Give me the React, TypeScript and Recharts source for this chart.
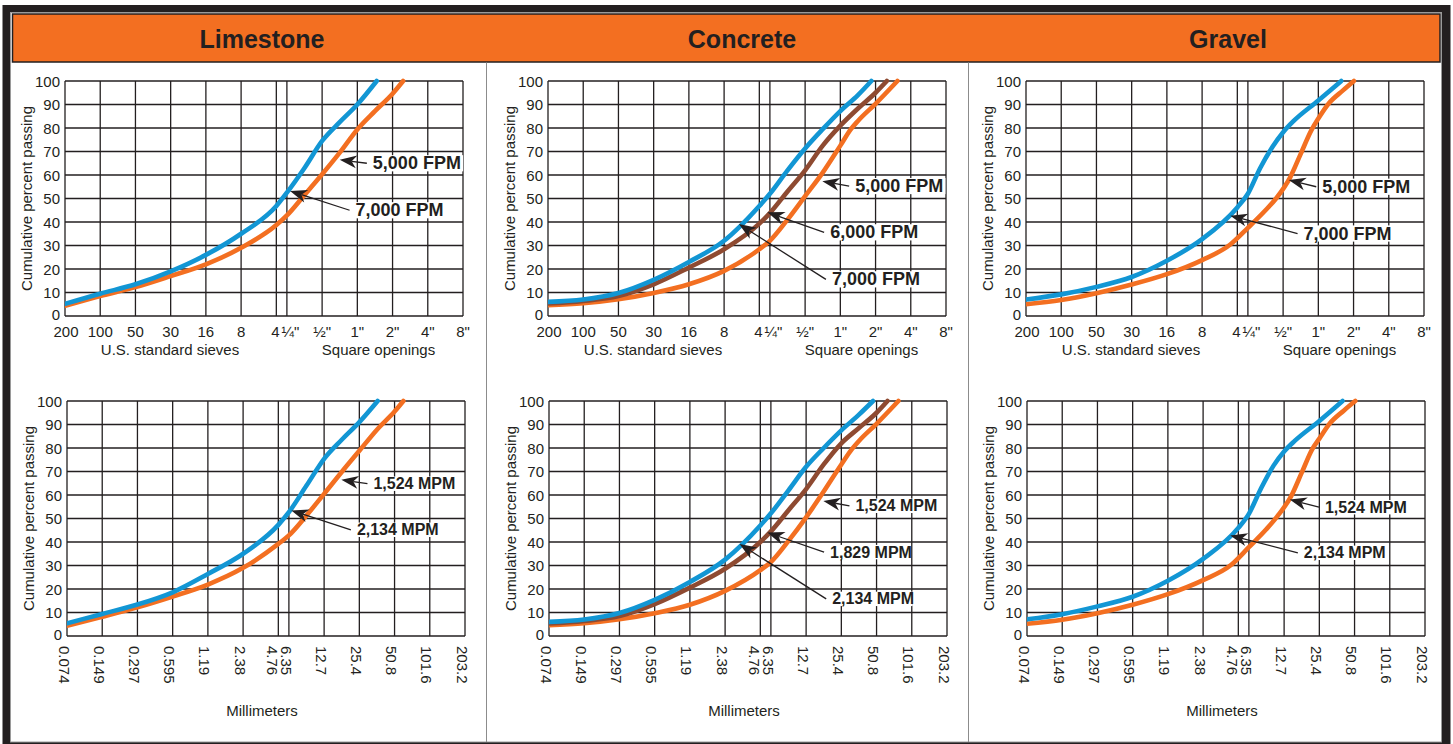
import React from 'react';
import { LineChart, Line, XAxis, YAxis, CartesianGrid, ReferenceLine } from 'recharts';

type Pt = [number, number];

// x positions on the chart's evenly spaced sieve scale (index units)
const X_TICKS = [0, 1, 2, 3, 4, 5, 6, 6.3, 7.3, 8.3, 9.3, 10.3, 11.3];
const SIEVE_LABELS = ['200', '100', '50', '30', '16', '8', '4', '¼"', '½"', '1"', '2"', '4"', '8"'];
const MM_LABELS = ['0.074', '0.149', '0.297', '0.595', '1.19', '2.38', '4.76', '6.35', '12.7', '25.4', '50.8', '101.6', '203.2'];
const Y_TICKS = [0, 10, 20, 30, 40, 50, 60, 70, 80, 90, 100];
const TITLES = ['Limestone', 'Concrete', 'Gravel'];

// Limestone, FPM
const limeFpm5000: Pt[] = [[0, 4.3], [1, 8.5], [2, 12.3], [3, 17], [4, 22], [5, 29], [6, 38.7], [6.3, 42.8], [6.8, 51.5], [7.3, 60.3], [7.8, 69.5], [8.3, 79.4], [8.8, 87.2], [9.3, 94.6], [9.6, 100]];
const limeFpm7000: Pt[] = [[0, 5.2], [1, 9.5], [2, 13.5], [3, 19], [4, 26], [5, 35], [6, 46.8], [6.3, 52.5], [6.8, 63], [7.3, 74.5], [7.8, 82.5], [8.3, 90], [8.85, 100]];
// Limestone, MPM
const limeMpm1524: Pt[] = [[0, 4.4], [1, 8.2], [2, 12.2], [3, 16.8], [4, 21.9], [5, 29], [6, 39.2], [6.3, 42.8], [6.8, 51.3], [7.3, 60.5], [7.8, 69.8], [8.3, 78.8], [8.8, 87.8], [9.3, 95.5], [9.55, 100]];
const limeMpm2134: Pt[] = [[0, 5.4], [1, 9.4], [2, 13.4], [3, 18.6], [4, 26.4], [5, 35], [6, 47.3], [6.3, 52.7], [6.8, 64], [7.3, 75.4], [7.8, 83.5], [8.3, 91], [8.82, 100]];
// Concrete, FPM
const concFpm5000: Pt[] = [[0, 4.6], [1, 5.4], [2, 7.1], [3, 9.8], [4, 13.5], [5, 19.2], [6, 28.4], [6.3, 32], [6.8, 41], [7.3, 51], [7.8, 61], [8.3, 72.5], [8.6, 79.5], [8.8, 83], [9.3, 90.3], [9.92, 100]];
const concFpm6000: Pt[] = [[0, 5.3], [1, 6.4], [2, 8.5], [3, 13.5], [4, 20.6], [5, 28.4], [6, 39.3], [6.3, 43.8], [6.8, 53], [7.3, 62], [7.8, 72.5], [8.3, 81], [8.8, 88.3], [9.3, 95], [9.62, 100]];
const concFpm7000: Pt[] = [[0, 6], [1, 7], [2, 9.8], [3, 15.4], [4, 23], [5, 32], [6, 46.8], [6.3, 52], [6.8, 62], [7.3, 71.3], [7.8, 79.5], [8.3, 87.2], [8.8, 94], [9.18, 100]];
// Concrete, MPM
const concMpm1524: Pt[] = [[0, 4.6], [1, 5.4], [2, 7.1], [3, 9.7], [4, 13.3], [5, 19.2], [6, 28], [6.3, 31.5], [6.8, 40.5], [7.3, 50.5], [7.8, 61.5], [8.3, 73], [8.6, 79.5], [8.8, 83], [9.3, 90.3], [9.92, 100]];
const concMpm1829: Pt[] = [[0, 5.3], [1, 6.4], [2, 8.5], [3, 13.6], [4, 20.6], [5, 28.6], [6, 40], [6.3, 44.5], [6.8, 53.5], [7.3, 62.5], [7.8, 73], [8.3, 82], [8.8, 88.5], [9.3, 95], [9.61, 100]];
const concMpm2134: Pt[] = [[0, 6], [1, 7], [2, 9.8], [3, 15.4], [4, 23], [5, 32.5], [6, 47], [6.3, 52.2], [6.8, 62], [7.3, 72], [7.8, 80], [8.3, 87.5], [8.8, 94.2], [9.2, 100]];
// Gravel, FPM
const gravFpm5000: Pt[] = [[0, 5], [1, 6.8], [2, 9.7], [3, 13.4], [4, 17.8], [5, 23.8], [5.8, 30.4], [6.3, 37.5], [6.8, 45], [7.1, 50], [7.5, 59], [7.8, 69], [8.1, 79], [8.3, 84], [8.6, 90.5], [9, 96], [9.31, 100]];
const gravFpm7000: Pt[] = [[0, 7], [1, 9.2], [2, 12.4], [3, 16.6], [4, 23.5], [5, 32.7], [6, 46.2], [6.3, 52], [6.65, 63], [7, 72], [7.3, 78.2], [7.6, 83], [8.3, 91.7], [8.95, 100]];
// Gravel, MPM
const gravMpm1524: Pt[] = [[0, 5.2], [1, 6.9], [2, 9.7], [3, 13.3], [4, 17.8], [5, 23.8], [5.8, 30.3], [6.3, 37.8], [6.8, 45.5], [7.1, 50.8], [7.5, 59.5], [7.8, 69.5], [8.1, 79.5], [8.3, 84], [8.6, 90.5], [9, 96], [9.32, 100]];
const gravMpm2134: Pt[] = [[0, 7.1], [1, 9.3], [2, 12.6], [3, 16.7], [4, 23.5], [5, 32.8], [6, 46], [6.3, 52], [6.65, 63], [7, 72.5], [7.3, 78.5], [7.6, 83], [8.3, 91.5], [8.96, 100]];

const BLUE = '#1296d4';
const ORANGE = '#f36f21';
const BROWN = '#8e4a31';
const INK = '#231f20';
const FONT = '"Liberation Sans", Arial, Helvetica, sans-serif';

type Series = { key: string; data: Pt[]; color: string };
type Note = { text: string; tail: Pt; tip: Pt };
type PanelDef = { left: number; top: number; mm: boolean; series: Series[]; notes: Note[] };

const PANELS: PanelDef[] = [
  {
    left: 65, top: 80.5, mm: false,
    series: [
      { key: 'a', data: limeFpm5000, color: ORANGE },
      { key: 'c', data: limeFpm7000, color: BLUE },
    ],
    notes: [
      { text: '5,000 FPM', tail: [8.57, 65], tip: [7.8, 66.5] },
      { text: '7,000 FPM', tail: [8.08, 45], tip: [6.39, 53.2] },
    ],
  },
  {
    left: 548, top: 80.5, mm: false,
    series: [
      { key: 'a', data: concFpm5000, color: ORANGE },
      { key: 'b', data: concFpm6000, color: BROWN },
      { key: 'c', data: concFpm7000, color: BLUE },
    ],
    notes: [
      { text: '5,000 FPM', tail: [8.55, 55.3], tip: [7.79, 57.3] },
      { text: '6,000 FPM', tail: [7.84, 35.6], tip: [6.23, 44.1] },
      { text: '7,000 FPM', tail: [7.89, 15.6], tip: [5.42, 39.1] },
    ],
  },
  {
    left: 1026, top: 80.5, mm: false,
    series: [
      { key: 'a', data: gravFpm5000, color: ORANGE },
      { key: 'c', data: gravFpm7000, color: BLUE },
    ],
    notes: [
      { text: '5,000 FPM', tail: [8.24, 55], tip: [7.46, 57.9] },
      { text: '7,000 FPM', tail: [7.71, 35.1], tip: [5.8, 42.7] },
    ],
  },
  {
    left: 66.5, top: 400.5, mm: true,
    series: [
      { key: 'a', data: limeMpm1524, color: ORANGE },
      { key: 'c', data: limeMpm2134, color: BLUE },
    ],
    notes: [
      { text: '1,524 MPM', tail: [8.53, 64.8], tip: [7.79, 66.5] },
      { text: '2,134 MPM', tail: [8.06, 45.2], tip: [6.37, 53.4] },
    ],
  },
  {
    left: 549, top: 400.5, mm: true,
    series: [
      { key: 'a', data: concMpm1524, color: ORANGE },
      { key: 'b', data: concMpm1829, color: BROWN },
      { key: 'c', data: concMpm2134, color: BLUE },
    ],
    notes: [
      { text: '1,524 MPM', tail: [8.53, 55.4], tip: [7.79, 57.4] },
      { text: '1,829 MPM', tail: [7.81, 35.7], tip: [6.2, 44] },
      { text: '2,134 MPM', tail: [7.87, 15.8], tip: [5.41, 39.2] },
    ],
  },
  {
    left: 1027, top: 400.5, mm: true,
    series: [
      { key: 'a', data: gravMpm1524, color: ORANGE },
      { key: 'c', data: gravMpm2134, color: BLUE },
    ],
    notes: [
      { text: '1,524 MPM', tail: [8.29, 54.8], tip: [7.46, 58.1] },
      { text: '2,134 MPM', tail: [7.69, 35.4], tip: [5.77, 42.8] },
    ],
  },
];

const PLOT_W = 398;
const PLOT_H = 235;
const M_TOP = 18;
const Y_W = 65;
const M_RIGHT = 30;

const tickIndex = (v: number) => X_TICKS.findIndex((t) => Math.abs(t - v) < 1e-6);

const SieveTick = (props: any) => {
  const { x, y, payload } = props;
  const i = tickIndex(payload.value);
  const label = SIEVE_LABELS[i] ?? '';
  const dx = i === 7 ? 3.5 : i === 6 ? -1 : i === 0 ? 1 : 0;
  return (
    <text x={x + dx} y={y + 21} textAnchor="middle" fontSize={15} fill={INK}>
      {label}
    </text>
  );
};

const MmTick = (props: any) => {
  const { x, y, payload } = props;
  const i = tickIndex(payload.value);
  const label = MM_LABELS[i] ?? '';
  const dx = i === 6 ? -6 : i === 7 ? -2 : -3;
  const tx = x + dx;
  const ty = y + 10;
  return (
    <text x={tx} y={ty} transform={`rotate(90 ${tx} ${ty})`} textAnchor="start" dominantBaseline="central" fontSize={15} fill={INK}>
      {label}
    </text>
  );
};

const PctTick = (props: any) => {
  const { x, y, payload } = props;
  const dy = payload.value === 0 ? -1.5 : 0;
  return (
    <text x={x} y={y + dy} textAnchor="end" dominantBaseline="central" fontSize={15} fill={INK}>
      {payload.value}
    </text>
  );
};

function makeArrow(text: string, fs: number) {
  return (p: any) => {
    const { x1, y1, x2, y2 } = p;
    if ([x1, y1, x2, y2].some((v) => typeof v !== 'number' || Number.isNaN(v))) return <g />;
    const dx = x2 - x1;
    const dy = y2 - y1;
    const len = Math.hypot(dx, dy) || 1;
    const ux = dx / len;
    const uy = dy / len;
    const nx = -uy;
    const ny = ux;
    const L = 17;
    const Wd = 6.5;
    const N = 5;
    const bx = x2 - ux * L;
    const by = y2 - uy * L;
    const cx = x2 - ux * (L - N);
    const cy = y2 - uy * (L - N);
    const head = `${x2},${y2} ${bx + nx * Wd},${by + ny * Wd} ${cx},${cy} ${bx - nx * Wd},${by - ny * Wd}`;
    const tw = text.length * fs * 0.545;
    return (
      <g>
        <rect x={x1 + 3} y={y1 - fs * 0.45} width={tw + 5} height={fs * 0.9} fill="#ffffff" />
        <line x1={x1} y1={y1} x2={cx} y2={cy} stroke={INK} strokeWidth={1.3} />
        <polygon points={head} fill={INK} />
        <text x={x1 + 6} y={y1} dominantBaseline="central" fontSize={fs} fontWeight="bold" fill={INK}>
          {text}
        </text>
      </g>
    );
  };
}

function Panel({ def }: { def: PanelDef }) {
  const axisH = def.mm ? 100 : 57;
  const width = Y_W + PLOT_W + M_RIGHT;
  const height = M_TOP + PLOT_H + axisH;
  const plotBottom = M_TOP + PLOT_H;
  const fs = def.mm ? 16 : 18;
  const xTitle = () =>
    def.mm ? (
      <text x={Y_W + 195} y={plotBottom + 74.5} textAnchor="middle" dominantBaseline="central" fontSize={15} fill={INK}>
        Millimeters
      </text>
    ) : (
      <g>
        <text x={Y_W + 105} y={plotBottom + 33.8} textAnchor="middle" dominantBaseline="central" fontSize={15} fill={INK}>
          U.S. standard sieves
        </text>
        <text x={Y_W + 313.5} y={plotBottom + 33.8} textAnchor="middle" dominantBaseline="central" fontSize={15} fill={INK}>
          Square openings
        </text>
      </g>
    );
  const yTitle = () => {
    const cx = Y_W - 39;
    const cy = M_TOP + PLOT_H / 2;
    return (
      <text x={cx} y={cy} transform={`rotate(-90 ${cx} ${cy})`} textAnchor="middle" dominantBaseline="central" fontSize={15} fill={INK}>
        Cumulative percent passing
      </text>
    );
  };
  return (
    <div style={{ position: 'absolute', left: def.left - Y_W, top: def.top - M_TOP }}>
      <LineChart width={width} height={height} margin={{ top: M_TOP, right: M_RIGHT, bottom: 0, left: 0 }}>
        <CartesianGrid stroke={INK} strokeWidth={1.3} />
        <XAxis
          type="number"
          dataKey="x"
          domain={[0, 11.3]}
          ticks={X_TICKS}
          interval={0}
          allowDataOverflow
          tickLine={false}
          axisLine={false}
          tickSize={0}
          tickMargin={0}
          height={axisH}
          tick={def.mm ? <MmTick /> : <SieveTick />}
          label={{ content: xTitle }}
        />
        <YAxis
          type="number"
          domain={[0, 100]}
          ticks={Y_TICKS}
          interval={0}
          width={Y_W}
          tickLine={false}
          axisLine={false}
          tickSize={0}
          tickMargin={5}
          tick={<PctTick />}
          label={{ content: yTitle }}
        />
        {def.series.map((s) => (
          <Line
            key={s.key}
            name={s.key}
            data={s.data.map(([x, y]) => ({ x, y }))}
            dataKey="y"
            type="monotone"
            stroke={s.color}
            strokeWidth={4.6}
            strokeLinecap="round"
            strokeLinejoin="round"
            dot={false}
            activeDot={false}
            isAnimationActive={false}
          />
        ))}
        {def.notes.map((n) => (
          <ReferenceLine
            key={n.text}
            segment={[
              { x: n.tail[0], y: n.tail[1] },
              { x: n.tip[0], y: n.tip[1] },
            ]}
            shape={makeArrow(n.text, fs)}
          />
        ))}
      </LineChart>
    </div>
  );
}

const TITLE_X = [262, 742, 1228];

export default function App() {
  return (
    <div style={{ position: 'absolute', left: 0, top: 0, width: 1453, height: 744, fontFamily: FONT, background: '#fff' }}>
      <svg width={1453} height={744} style={{ position: 'absolute', left: 0, top: 0 }}>
        <rect x={2.5} y={5} width={1448} height={745} fill={INK} />
        <rect x={10.5} y={12.5} width={1431} height={729.5} fill="#ffffff" stroke="#9a9a9a" strokeWidth={1} />
        <rect x={12.5} y={14} width={1427.5} height={48} fill={ORANGE} stroke={INK} strokeWidth={1.5} />
        <line x1={486.5} y1={62.5} x2={486.5} y2={742} stroke="#8c8c8c" strokeWidth={1} />
        <line x1={968.5} y1={62.5} x2={968.5} y2={742} stroke="#8c8c8c" strokeWidth={1} />
        {TITLES.map((t, i) => (
          <text key={t} x={TITLE_X[i]} y={39} textAnchor="middle" dominantBaseline="central" fontSize={25} fontWeight="bold" fill={INK} fontFamily={FONT}>
            {t}
          </text>
        ))}
      </svg>
      {PANELS.map((p, i) => (
        <Panel key={i} def={p} />
      ))}
    </div>
  );
}
